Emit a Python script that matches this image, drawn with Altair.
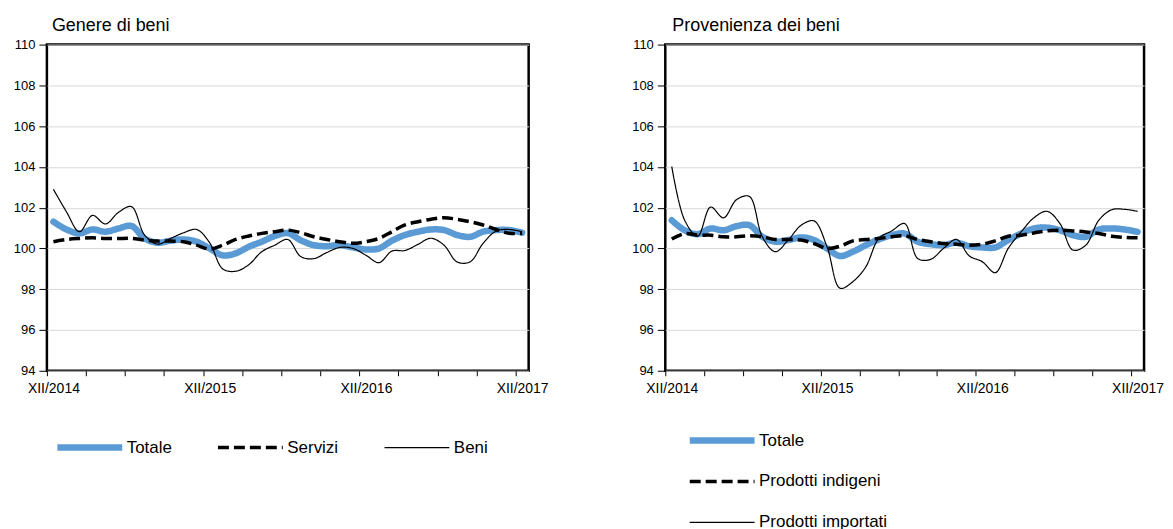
import altair as alt
import pandas as pd

# ---------------- data ----------------
months = list(range(37))  # XII/2014 ... XII/2017, monthly
tick_label_idx = [0, 12, 24, 36]
tick_labels = ["XII/2014", "XII/2015", "XII/2016", "XII/2017"]
y_ticks = [94, 96, 98, 100, 102, 104, 106, 108, 110]

left_title = "Genere di beni"
left_series = ["Totale", "Servizi", "Beni"]
left_totale = [101.31, 100.93, 100.74, 100.93, 100.82, 100.98, 101.1, 100.49, 100.28, 100.38,
               100.44, 100.33, 100.0, 99.66, 99.76, 100.08, 100.33, 100.61, 100.75, 100.4,
               100.16, 100.11, 100.16, 100.05, 99.95, 100.0, 100.38, 100.66, 100.82, 100.93,
               100.9, 100.66, 100.57, 100.82, 100.9, 100.9, 100.77]
left_servizi = [100.33, 100.44, 100.49, 100.52, 100.49, 100.49, 100.49, 100.41, 100.36, 100.36,
                100.33, 100.16, 99.97, 100.16, 100.44, 100.61, 100.74, 100.82, 100.9, 100.77,
                100.57, 100.44, 100.33, 100.25, 100.33, 100.49, 100.82, 101.15, 101.31, 101.43,
                101.51, 101.43, 101.31, 101.15, 100.93, 100.74, 100.74]
left_beni = [102.9, 101.8, 100.82, 101.62, 101.2, 101.77, 102.05, 100.66, 100.21, 100.49,
             100.77, 100.93, 100.28, 99.0, 98.88, 99.2, 99.84, 100.16, 100.44, 99.6,
             99.5, 99.8, 100.05, 100.0, 99.67, 99.3, 99.87, 99.9, 100.2, 100.5,
             100.16, 99.34, 99.34, 100.25, 100.85, 100.93, 100.82]

right_title = "Provenienza dei beni"
right_series = ["Totale", "Prodotti indigeni", "Prodotti importati"]
right_totale = [101.38, 100.89, 100.7, 100.98, 100.89, 101.09, 101.14, 100.57, 100.33, 100.41,
                100.54, 100.41, 100.0, 99.63, 99.84, 100.16, 100.44, 100.65, 100.73, 100.33,
                100.21, 100.16, 100.28, 100.11, 100.05, 100.05, 100.41, 100.73, 100.98, 101.02,
                100.89, 100.65, 100.57, 100.93, 100.98, 100.93, 100.81]
right_indigeni = [100.46, 100.73, 100.65, 100.65, 100.57, 100.57, 100.62, 100.57, 100.44, 100.44,
                  100.41, 100.24, 100.0, 100.11, 100.37, 100.44, 100.49, 100.57, 100.62, 100.44,
                  100.33, 100.24, 100.21, 100.16, 100.21, 100.37, 100.6, 100.65, 100.76, 100.86,
                  100.89, 100.86, 100.81, 100.73, 100.6, 100.54, 100.52]
right_importati = [104.02, 101.38, 100.6, 102.03, 101.5, 102.39, 102.55, 100.57, 99.84, 100.41,
                   101.14, 101.35, 100.08, 98.05, 98.37, 99.1, 100.49, 100.86, 101.22, 99.51,
                   99.46, 100.0, 100.44, 99.63, 99.35, 98.81, 100.0, 100.81, 101.51, 101.82,
                   101.22, 99.92, 100.16, 101.38, 101.9, 101.92, 101.82]

# ---------------- styles ----------------
FONT = "Liberation Sans"
colors = ["#5B9BD5", "#000000", "#000000"]
widths = [6.5, 3.5, 1.2]
dashes = [[1, 0], [11, 5], [1, 0]]
caps = ["round", "butt", "butt"]
H = 327
W_L, W_R = 483, 480

tick_pos = [m - 0.5 for m in months if m % 3 == 0]
label_expr = " : ".join(
    f"datum.value == {idx - 0.5} ? '{lab}'" for idx, lab in zip(tick_label_idx, tick_labels)
) + " : ''"


def panel(title, names, values, width, legend, title_dx):
    rows = []
    for name, vals in zip(names, values):
        for m, v in zip(months, vals):
            rows.append({"i": m, "value": v, "serie": name})
    df = pd.DataFrame(rows)

    x = alt.X("i:Q",
              scale=alt.Scale(domain=[-0.5, 36.5], nice=False, zero=False),
              axis=alt.Axis(values=tick_pos, labelExpr=label_expr, labelOffset=width / 74,
                            title=None, grid=False, domain=False, ticks=True,
                            tickColor="black", tickSize=5, tickWidth=1,
                            labelFontSize=14, labelPadding=6, labelColor="black",
                            labelOverlap=False, labelFlush=False, labelBound=False,
                            labelFont=FONT))
    y = alt.Y("value:Q",
              scale=alt.Scale(domain=[94, 110], nice=False, zero=False),
              axis=alt.Axis(values=y_ticks, title=None, grid=True, gridColor="#d9d9d9",
                            gridWidth=1, domain=False, tickColor="black", tickSize=8,
                            tickWidth=1, labelPadding=4, labelFontSize=13,
                            labelColor="black", labelFont=FONT))
    enc = dict(
        x=x, y=y,
        color=alt.Color("serie:N", scale=alt.Scale(domain=names, range=colors), legend=legend),
        strokeDash=alt.StrokeDash("serie:N", scale=alt.Scale(domain=names, range=dashes), legend=legend),
        strokeWidth=alt.StrokeWidth("serie:N", scale=alt.Scale(type="ordinal", domain=names, range=widths), legend=legend),
    )
    layers = []
    for k, name in enumerate(names):
        layers.append(
            alt.Chart(df)
            .transform_filter(alt.datum.serie == name)
            .mark_line(interpolate="catmull-rom", strokeCap=caps[k], strokeJoin="round")
            .encode(**enc)
        )
    return alt.layer(*layers).properties(
        width=width, height=H,
        title=alt.TitleParams(title, anchor="start", frame="group", fontSize=18,
                              fontWeight="normal", font=FONT, color="black",
                              baseline="bottom", offset=-14, dx=title_dx),
    )


common_leg = dict(title=None, symbolType="stroke", symbolSize=4225, labelFontSize=17,
                  labelFont=FONT, labelColor="black", labelOffset=1, orient="none",
                  clipHeight=18)

left_legend = alt.Legend(direction="horizontal", columns=3, columnPadding=42,
                         legendX=7, legendY=395, **common_leg)
right_legend = alt.Legend(direction="vertical", rowPadding=23,
                          legendX=21, legendY=388, **common_leg)

left = panel(left_title, left_series, [left_totale, left_servizi, left_beni], W_L, left_legend, 5)
right = panel(right_title, right_series, [right_totale, right_indigeni, right_importati], W_R,
              right_legend, 7)

chart = (
    alt.hconcat(left, right, spacing=81)
    .resolve_scale(color="independent", strokeDash="independent", strokeWidth="independent")
    .properties(padding={"left": 4, "top": 6, "right": 0, "bottom": 0})
    .configure(font=FONT)
    .configure_view(stroke="black", strokeWidth=2.5)
)

chart.save("out.html", embed_options={"renderer": "svg", "actions": False})
